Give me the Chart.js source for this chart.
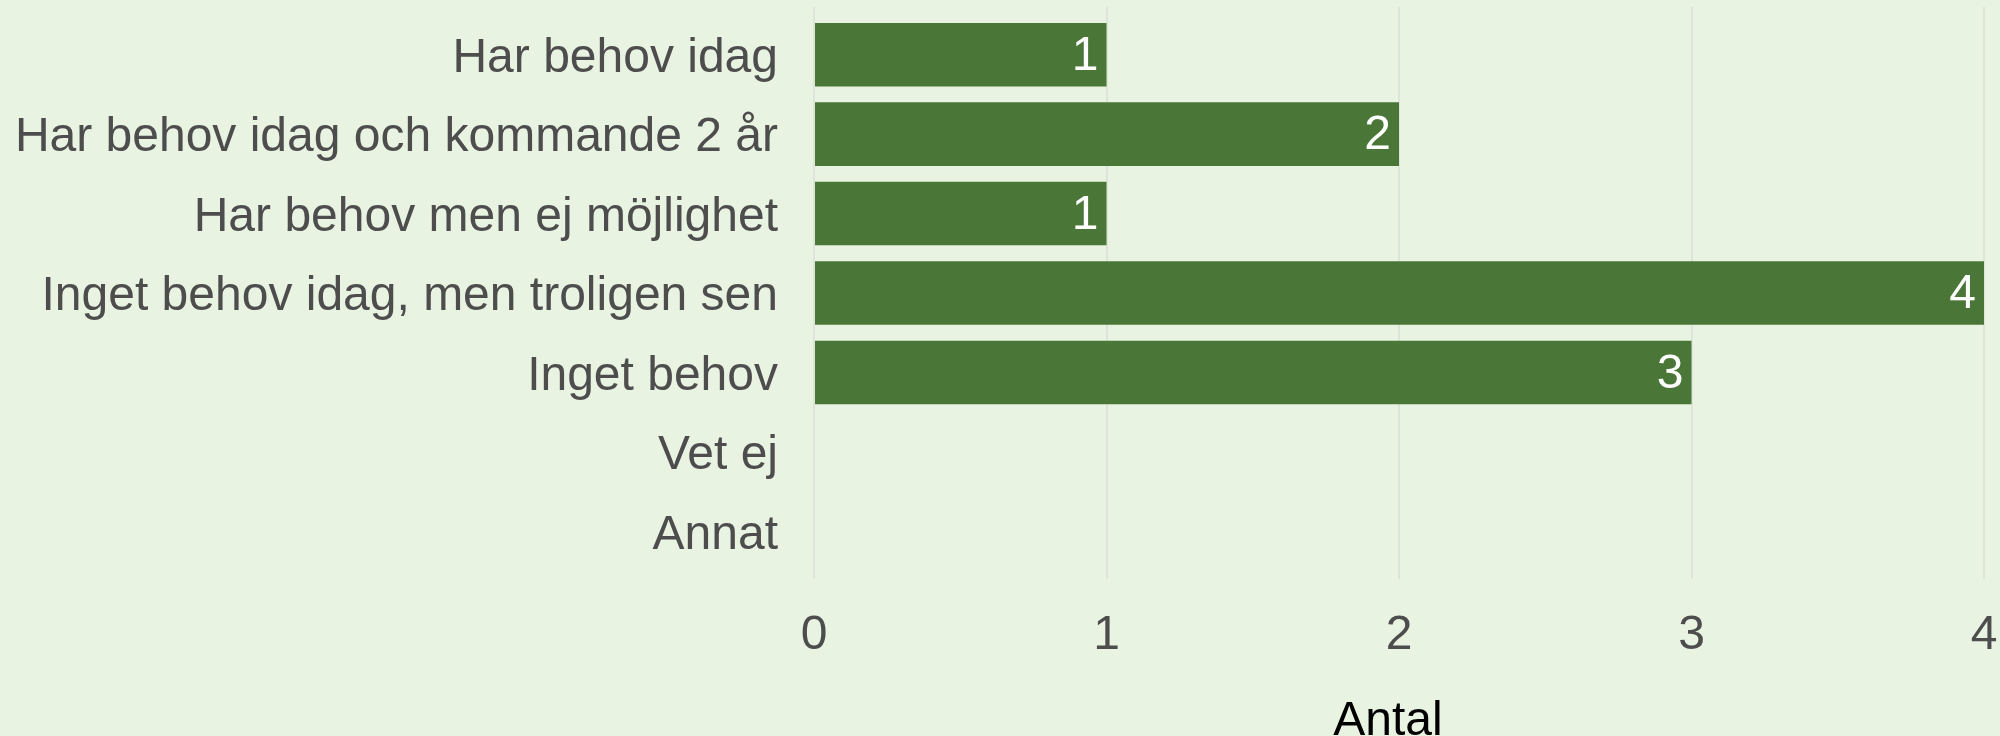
<!DOCTYPE html>
<html>
<head>
<meta charset="utf-8">
<script src="https://cdn.jsdelivr.net/npm/chart.js@4.4.1/dist/chart.umd.min.js"></script>
<style>
  html, body { margin:0; padding:0; background:#e8f3e2; }
  #wrap { width:2000px; height:736px; position:relative; }
</style>
</head>
<body>
<div id="wrap"><canvas id="behovChart" width="2000" height="736"></canvas></div>
<script>
// --- data ---
const categories = [
  'Har behov idag',
  'Har behov idag och kommande 2 år',
  'Har behov men ej möjlighet',
  'Inget behov idag, men troligen sen',
  'Inget behov',
  'Vet ej',
  'Annat'
];
const counts = [1, 2, 1, 4, 3, 0, 0];
const xTicks = [0, 1, 2, 3, 4];
const axisTitle = 'Antal';

const FONT = "'Liberation Sans', Arial, sans-serif";
const BAR = '#4a7737';
const GRID = '#dde5d9';

// value labels inside the bar end
const barLabels = {
  id: 'barLabels',
  afterDatasetsDraw(chart) {
    const ctx = chart.ctx;
    const meta = chart.getDatasetMeta(0);
    ctx.save();
    ctx.font = '48px ' + FONT;
    ctx.fillStyle = '#ffffff';
    ctx.textAlign = 'right';
    ctx.textBaseline = 'middle';
    meta.data.forEach((bar, i) => {
      if (!counts[i]) return;
      ctx.fillText(String(counts[i]), bar.x - 8, bar.y + 2);
    });
    ctx.restore();
  }
};

// grid lines poke a bit above the panel + axis title
const extras = {
  id: 'extras',
  beforeDatasetsDraw(chart) {
    const ctx = chart.ctx, x = chart.scales.x, top = chart.chartArea.top;
    ctx.save();
    ctx.strokeStyle = GRID; ctx.lineWidth = 2;
    xTicks.forEach(v => {
      const px = Math.round(x.getPixelForValue(v));
      ctx.beginPath(); ctx.moveTo(px, top - 8); ctx.lineTo(px, top); ctx.stroke();
    });
    ctx.restore();
  },
  afterDraw(chart) {
    const ctx = chart.ctx, a = chart.chartArea;
    ctx.save();
    ctx.font = '48px ' + FONT;
    ctx.fillStyle = '#000000';
    ctx.textAlign = 'center';
    ctx.textBaseline = 'alphabetic';
    ctx.fillText(axisTitle, (a.left + a.right) / 2 - 11, 735);
    ctx.restore();
  }
};

function noPad(s) { s.paddingTop = 0; s.paddingBottom = 0; s.paddingLeft = 0; s.paddingRight = 0; }

new Chart(document.getElementById('behovChart'), {
  type: 'bar',
  data: {
    labels: categories,
    datasets: [{ data: counts, backgroundColor: BAR, borderWidth: 0,
      barPercentage: 0.8, categoryPercentage: 1.0 }]
  },
  options: {
    indexAxis: 'y',
    responsive: false,
    animation: false,
    layout: { padding: { top: 15, right: 16, left: 0, bottom: 0 } },
    plugins: { legend: { display: false }, tooltip: { enabled: false } },
    scales: {
      x: {
        min: 0, max: 4,
        afterBuildTicks: s => { s.ticks = xTicks.map(v => ({ value: v })); },
        afterFit: s => { s.height = 165; noPad(s); },
        grid: { color: GRID, lineWidth: 2, tickLength: 8, drawTicks: true },
        border: { display: false },
        ticks: { color: '#4d4d4d', padding: 28, font: { family: FONT, size: 48 } }
      },
      y: {
        afterFit: s => { s.width = 814; noPad(s); },
        grid: { display: false, drawTicks: false },
        border: { display: false },
        ticks: { color: '#4d4d4d', padding: 36, labelOffset: 4, font: { family: FONT, size: 48 } }
      }
    }
  },
  plugins: [barLabels, extras]
});
</script>
</body>
</html>
